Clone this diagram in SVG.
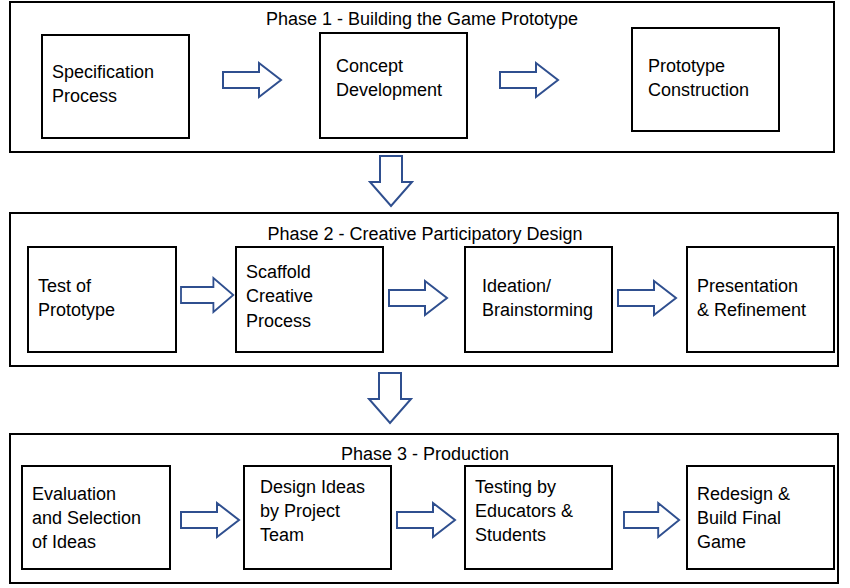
<svg xmlns="http://www.w3.org/2000/svg" width="850" height="588" viewBox="0 0 850 588">
<defs>
<style>
.ph{fill:#fff;stroke:#000;stroke-width:2}
.bx{fill:#fff;stroke:#000;stroke-width:2}
.t{font-family:"Liberation Sans",Arial,sans-serif;font-size:18px;fill:#000}
.ar{fill:#fff;stroke:#2F4F8F;stroke-width:2;stroke-linejoin:miter}
</style>
<path id="ra" d="M0,-8 H36 V-17 L58,0 L36,17 V8 H0 Z"/>
<path id="da" d="M-11,0 H11 V26 H21 L0,50 L-21,26 H-11 Z"/>
</defs>
<rect width="850" height="588" fill="#fff"/>
<g id="phase1">
<rect class="ph" x="10" y="2" width="824" height="150"/>
<text class="t" x="422" y="25" text-anchor="middle">Phase 1 - Building the Game Prototype</text>
</g>
<g id="spec"><rect class="bx" x="42" y="35" width="147" height="103"/><text class="t" x="52" y="78">Specification</text><text class="t" x="52" y="102">Process</text></g>
<g id="concept"><rect class="bx" x="320" y="33" width="147" height="105"/><text class="t" x="336" y="72">Concept</text><text class="t" x="336" y="96">Development</text></g>
<g id="proto"><rect class="bx" x="632" y="28" width="147" height="103"/><text class="t" x="648" y="72">Prototype</text><text class="t" x="648" y="96">Construction</text></g>
<g id="phase2">
<rect class="ph" x="10" y="213" width="828" height="153"/>
<text class="t" x="425" y="240" text-anchor="middle">Phase 2 - Creative Participatory Design</text>
</g>
<g id="test"><rect class="bx" x="28" y="247" width="148" height="105"/><text class="t" x="38" y="292">Test of</text><text class="t" x="38" y="316">Prototype</text></g>
<g id="scaffold"><rect class="bx" x="236" y="247" width="147" height="105"/><text class="t" x="246" y="278">Scaffold</text><text class="t" x="246" y="302">Creative</text><text class="t" x="246" y="327">Process</text></g>
<g id="ideation"><rect class="bx" x="465" y="247" width="147" height="105"/><text class="t" x="482" y="292">Ideation/</text><text class="t" x="482" y="316">Brainstorming</text></g>
<g id="present"><rect class="bx" x="687" y="247" width="147" height="105"/><text class="t" x="697" y="292">Presentation</text><text class="t" x="697" y="316">&amp; Refinement</text></g>
<g id="phase3">
<rect class="ph" x="10" y="434" width="828" height="149"/>
<text class="t" x="425" y="460" text-anchor="middle">Phase 3 - Production</text>
</g>
<g id="eval"><rect class="bx" x="22" y="466" width="148" height="103"/><text class="t" x="32" y="500">Evaluation</text><text class="t" x="32" y="524">and Selection</text><text class="t" x="32" y="548">of Ideas</text></g>
<g id="design"><rect class="bx" x="244" y="466" width="147" height="103"/><text class="t" x="260" y="493">Design Ideas</text><text class="t" x="260" y="517">by Project</text><text class="t" x="260" y="541">Team</text></g>
<g id="testing"><rect class="bx" x="465" y="466" width="147" height="103"/><text class="t" x="475" y="493">Testing by</text><text class="t" x="475" y="517">Educators &amp;</text><text class="t" x="475" y="541">Students</text></g>
<g id="redesign"><rect class="bx" x="687" y="466" width="147" height="103"/><text class="t" x="697" y="500">Redesign &amp;</text><text class="t" x="697" y="524">Build Final</text><text class="t" x="697" y="548">Game</text></g>
<g id="connectors">
<use href="#ra" class="ar" transform="translate(223,80)"/>
<use href="#ra" class="ar" transform="translate(500,80)"/>
<use href="#ra" class="ar" transform="translate(181,295) scale(0.9,1)"/>
<use href="#ra" class="ar" transform="translate(389,298)"/>
<use href="#ra" class="ar" transform="translate(618,298)"/>
<use href="#ra" class="ar" transform="translate(181,520)"/>
<use href="#ra" class="ar" transform="translate(397,520)"/>
<use href="#ra" class="ar" transform="translate(624,520) scale(0.95,1)"/>
<use href="#da" class="ar" transform="translate(391,156)"/>
<use href="#da" class="ar" transform="translate(390,373)"/>
</g>
</svg>
